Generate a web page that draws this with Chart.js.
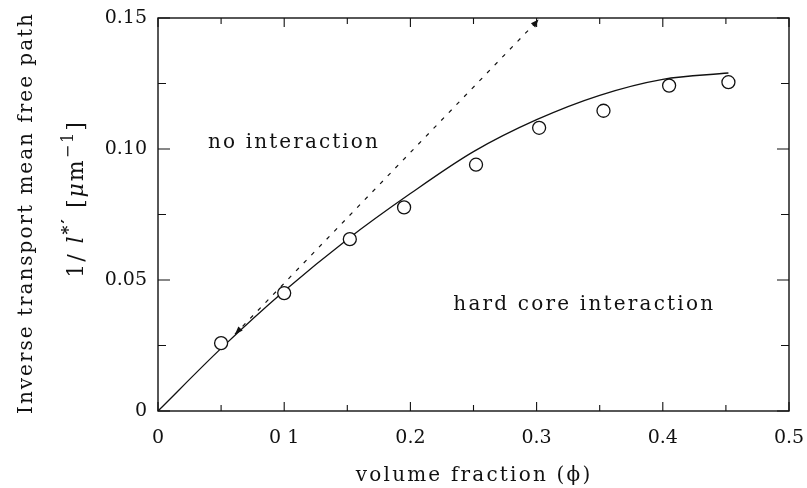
<!DOCTYPE html>
<html>
<head>
<meta charset="utf-8">
<script src="https://cdn.jsdelivr.net/npm/chart.js@4.4.1/dist/chart.umd.min.js"></script>
<style>
  html, body { margin: 0; padding: 0; background: #fff; }
  #wrap { width: 807px; height: 488px; }
</style>
</head>
<body>
<div id="wrap"><canvas id="c" width="807" height="488"></canvas></div>
<script>
// measured points (open circles)
var phiMeasured = [0.05, 0.10, 0.152, 0.195, 0.252, 0.302, 0.353, 0.405, 0.452];
var invPathMeasured = [0.0259, 0.0450, 0.0656, 0.0777, 0.0940, 0.1081, 0.1146, 0.1242, 0.1255];

// hard core interaction curve (solid)
var phiHardCore = [0, 0.05, 0.10, 0.15, 0.20, 0.25, 0.30, 0.35, 0.40, 0.452];
var invPathHardCore = [0, 0.0239, 0.0458, 0.0655, 0.0830, 0.0990, 0.1112, 0.1205, 0.1266, 0.1290];

// no interaction line (dashed, arrows at both ends)
var phiNoInt = [0.061, 0.3016];
var invPathNoInt = [0.0293, 0.1494];

var xTickLabels = ['0', '0 1', '0.2', '0.3', '0.4', '0.5'];
var yTickLabels = ['0', '0.05', '0.10', '0.15'];

var FONT = '"DejaVu Serif", "Liberation Serif", serif';
var INK = '#111';

function toXY(xs, ys) {
    var out = [];
    for (var i = 0; i < xs.length; i++) { out.push({x: xs[i], y: ys[i]}); }
    return out;
}

function isMultiple(v, step) {
    var r = v / step;
    return Math.abs(r - Math.round(r)) < 1e-6;
}

function arrowHead(ctx, tip, from, len, half) {
    var dx = tip.x - from.x, dy = tip.y - from.y;
    var d = Math.sqrt(dx * dx + dy * dy);
    var ux = dx / d, uy = dy / d;
    var bx = tip.x - ux * len, by = tip.y - uy * len;
    ctx.beginPath();
    ctx.moveTo(tip.x, tip.y);
    ctx.lineTo(bx - uy * half, by + ux * half);
    ctx.lineTo(bx + uy * half, by - ux * half);
    ctx.closePath();
    ctx.fill();
}

// text with extra letter spacing, centred by its real width
function spaced(ctx, text, x, y, align, sp) {
    ctx.letterSpacing = sp + 'px';
    var w = ctx.measureText(text).width - sp;
    var x0 = align === 'center' ? x - w / 2 : x;
    ctx.textAlign = 'left';
    ctx.fillText(text, x0, y);
    ctx.letterSpacing = '0px';
}

var decoPlugin = {
    id: 'deco',
    beforeDatasetsDraw: function(chart) {
        var ctx = chart.ctx, a = chart.chartArea;
        var xs = chart.scales.x, ys = chart.scales.y;
        ctx.save();
        ctx.strokeStyle = INK;
        ctx.lineWidth = 1.4;
        ctx.strokeRect(a.left, a.top, a.right - a.left, a.bottom - a.top);
        ctx.lineWidth = 1.1;
        ctx.beginPath();
        xs.ticks.forEach(function(t) {
            var px = xs.getPixelForValue(t.value);
            var len = isMultiple(t.value, 0.1) ? 9 : 6;
            ctx.moveTo(px, a.bottom); ctx.lineTo(px, a.bottom - len);
            ctx.moveTo(px, a.top); ctx.lineTo(px, a.top + len);
        });
        ys.ticks.forEach(function(t) {
            var py = ys.getPixelForValue(t.value);
            var len = isMultiple(t.value, 0.05) ? 12 : 8;
            ctx.moveTo(a.left, py); ctx.lineTo(a.left + len, py);
            ctx.moveTo(a.right, py); ctx.lineTo(a.right - len, py);
        });
        ctx.stroke();
        ctx.restore();
    },
    afterDraw: function(chart) {
        var ctx = chart.ctx;
        var xs = chart.scales.x, ys = chart.scales.y;
        ctx.save();
        ctx.fillStyle = INK;

        // arrows on the dashed line
        var pts = chart.getDatasetMeta(2).data;
        arrowHead(ctx, pts[0], pts[1], 8, 3);
        arrowHead(ctx, pts[1], pts[0], 8, 3);

        // annotations
        ctx.font = '20px ' + FONT;
        ctx.textBaseline = 'alphabetic';
        spaced(ctx, 'no interaction', xs.getPixelForValue(0.0397), ys.getPixelForValue(0.1002), 'left', 2.1);
        spaced(ctx, 'hard core interaction', xs.getPixelForValue(0.234), ys.getPixelForValue(0.0385), 'left', 2.2);

        // x title
        spaced(ctx, 'volume fraction (\u03D5)', 473, 481, 'center', 2.2);

        // y title, line 1
        ctx.save();
        ctx.translate(32, 214);
        ctx.rotate(-Math.PI / 2);
        spaced(ctx, 'Inverse transport mean free path', 0, 0, 'center', 2.0);
        ctx.restore();

        // y title, line 2 : 1/l*' [um^-1]
        var parts = [
            {t: '1/ ', f: '22px ' + FONT, dy: 0},
            {t: 'l', f: 'italic 22px ' + FONT, dy: 0},
            {t: '*\u2032', f: 'bold 17px ' + FONT, dy: -10},
            {t: ' [', f: '22px ' + FONT, dy: 0},
            {t: '\u03BC', f: 'italic 22px ' + FONT, dy: 0},
            {t: 'm', f: '22px ' + FONT, dy: 0},
            {t: '\u22121', f: '16px ' + FONT, dy: -10},
            {t: ']', f: '22px ' + FONT, dy: 0}
        ];
        var sp = 2;
        var total = 0;
        ctx.letterSpacing = sp + 'px';
        parts.forEach(function(p) { ctx.font = p.f; p.w = ctx.measureText(p.t).width; total += p.w; });
        ctx.save();
        ctx.translate(83, 199);
        ctx.rotate(-Math.PI / 2);
        ctx.textAlign = 'left';
        var cx = -total / 2;
        parts.forEach(function(p) {
            ctx.font = p.f;
            ctx.fillText(p.t, cx, p.dy);
            cx += p.w;
        });
        ctx.restore();
        ctx.letterSpacing = '0px';

        ctx.restore();
    }
};

new Chart(document.getElementById('c'), {
    type: 'scatter',
    data: {
        datasets: [
            {
                label: 'measured',
                data: toXY(phiMeasured, invPathMeasured),
                pointStyle: 'circle',
                pointRadius: 6.5,
                pointBorderWidth: 1.3,
                pointBorderColor: INK,
                pointBackgroundColor: '#fff',
                showLine: false
            },
            {
                label: 'hard core interaction',
                data: toXY(phiHardCore, invPathHardCore),
                showLine: true,
                borderColor: INK,
                borderWidth: 1.3,
                pointRadius: 0,
                cubicInterpolationMode: 'monotone',
                fill: false
            },
            {
                label: 'no interaction',
                data: toXY(phiNoInt, invPathNoInt),
                showLine: true,
                borderColor: INK,
                borderWidth: 1.2,
                borderDash: [4, 7],
                pointRadius: 0,
                fill: false
            }
        ]
    },
    options: {
        responsive: false,
        animation: false,
        layout: { padding: { left: 0, right: 18, top: 18, bottom: 0 } },
        plugins: {
            legend: { display: false },
            tooltip: { enabled: false }
        },
        scales: {
            x: {
                type: 'linear',
                min: 0,
                max: 0.5,
                grid: { display: false, drawTicks: false },
                border: { display: false },
                afterFit: function(s) { s.height = 77; s.paddingLeft = 0; s.paddingRight = 0; },
                ticks: {
                    stepSize: 0.05,
                    autoSkip: false,
                    maxRotation: 0,
                    padding: 16,
                    color: INK,
                    font: { family: FONT, size: 19 },
                    callback: function(v) {
                        return isMultiple(v, 0.1) ? xTickLabels[Math.round(v / 0.1)] : '';
                    }
                }
            },
            y: {
                type: 'linear',
                min: 0,
                max: 0.15,
                grid: { display: false, drawTicks: false },
                border: { display: false },
                afterFit: function(s) { s.width = 158; s.paddingTop = 0; s.paddingBottom = 0; },
                ticks: {
                    stepSize: 0.025,
                    autoSkip: false,
                    padding: 11,
                    color: INK,
                    font: { family: FONT, size: 19 },
                    callback: function(v) {
                        return isMultiple(v, 0.05) ? yTickLabels[Math.round(v / 0.05)] : '';
                    }
                }
            }
        }
    },
    plugins: [decoPlugin]
});
</script>
</body>
</html>
